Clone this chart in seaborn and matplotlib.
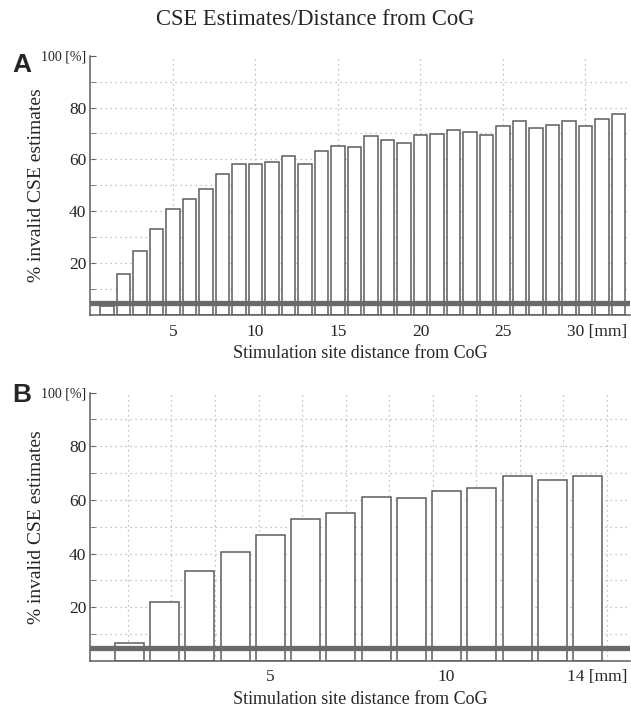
import numpy as np
import pandas as pd
import matplotlib
matplotlib.use("Agg")
import matplotlib.pyplot as plt
import seaborn as sns

# % invalid CSE estimates per stimulation site distance (mm)
dist_a = list(range(1, 33))
pct_a = [3.5, 15.9, 24.6, 33.2, 41.0, 44.8, 48.8, 54.5, 58.2, 58.2,
         59.0, 61.2, 58.3, 63.3, 65.2, 64.9, 68.9, 67.4, 66.5, 69.6,
         69.8, 71.5, 70.6, 69.3, 73.0, 74.9, 72.3, 73.1, 74.9, 73.0,
         75.6, 77.6]

dist_b = list(range(1, 15))
pct_b = [6.6, 22.0, 33.4, 40.6, 47.0, 52.9, 55.3, 61.1, 60.9, 63.4,
         64.3, 68.8, 67.5, 68.9]

threshold = 4.7  # thick grey reference line

xticks_a = [5, 10, 15, 20, 25, 30]
xticks_b = [5, 10, 14]
yticks = [20, 40, 60, 80, 100]

sns.set_style("white")
plt.rcParams["font.family"] = ["Liberation Serif", "DejaVu Serif"]

fig = plt.figure(figsize=(6.31, 7.12), dpi=100)
ax_a = fig.add_axes([0.1434, 0.557, 0.855, 0.365])
ax_b = fig.add_axes([0.1434, 0.0716, 0.855, 0.377])

edge = "#5c5c5c"


def draw_panel(ax, dist, pct, xticks, xlim, vgrid):
    df = pd.DataFrame({"dist": dist, "pct": pct})
    sns.barplot(data=df, x="dist", y="pct", native_scale=True, width=0.82,
                color="white", edgecolor=edge, linewidth=1.1, ax=ax,
                zorder=2)
    ax.set_xlim(*xlim)
    ax.set_ylim(0, 100)

    # dotted grid
    for yv in range(10, 100, 10):
        ax.axhline(yv, color="#b0b0b0", lw=0.9, ls=(0, (1, 3)), zorder=1)
    for xv in vgrid:
        ax.axvline(xv, color="#b0b0b0", lw=0.9, ls=(0, (1, 3)), zorder=1)

    ax.axhline(threshold, color="#6a6a6a", lw=3.8, zorder=3)

    for s in ["top", "right"]:
        ax.spines[s].set_visible(False)
    for s in ["left", "bottom"]:
        ax.spines[s].set_color(edge)
        ax.spines[s].set_linewidth(1.1)

    ax.set_yticks(yticks)
    ax.set_yticklabels(["20", "40", "60", "80", "100 [%]"])
    ax.set_yticks(range(10, 100, 10), minor=True)
    ax.tick_params(axis="y", which="both", direction="in", length=4,
                   color=edge, labelsize=12.5, pad=3, left=True)
    ax.get_yticklabels()[-1].set_fontsize(10)

    # last tick carries the unit, drawn flush with the right edge
    ax.set_xticks(xticks)
    ax.set_xticklabels([str(t) for t in xticks[:-1]] + [""])
    ax.tick_params(axis="x", length=0, labelsize=12.5, pad=6)
    ax.annotate(f"{xticks[-1]} [mm]", xy=(1.0, 0), xycoords="axes fraction",
                xytext=(-2, -6), textcoords="offset points",
                ha="right", va="top", fontsize=12.5)

    ax.set_xlabel("Stimulation site distance from CoG", fontsize=13, labelpad=4)
    ax.set_ylabel("% invalid CSE estimates", fontsize=14)
    ax.yaxis.set_label_coords(-0.084, 0.5)


draw_panel(ax_a, dist_a, pct_a, xticks_a, (0, 32.7), xticks_a)
draw_panel(ax_b, dist_b, pct_b, xticks_b, (-0.1, 15.2),
           [0.96 + 1.235 * k for k in range(12)])

fig.text(0.5, 0.972, "CSE Estimates/Distance from CoG", ha="center", va="center",
         fontsize=16.3)
fig.text(0.034, 0.909, "A", ha="center", va="center", fontsize=19,
         fontweight="bold", family="Liberation Sans")
fig.text(0.034, 0.445, "B", ha="center", va="center", fontsize=19,
         fontweight="bold", family="Liberation Sans")

fig.savefig("out.png", dpi=100)
